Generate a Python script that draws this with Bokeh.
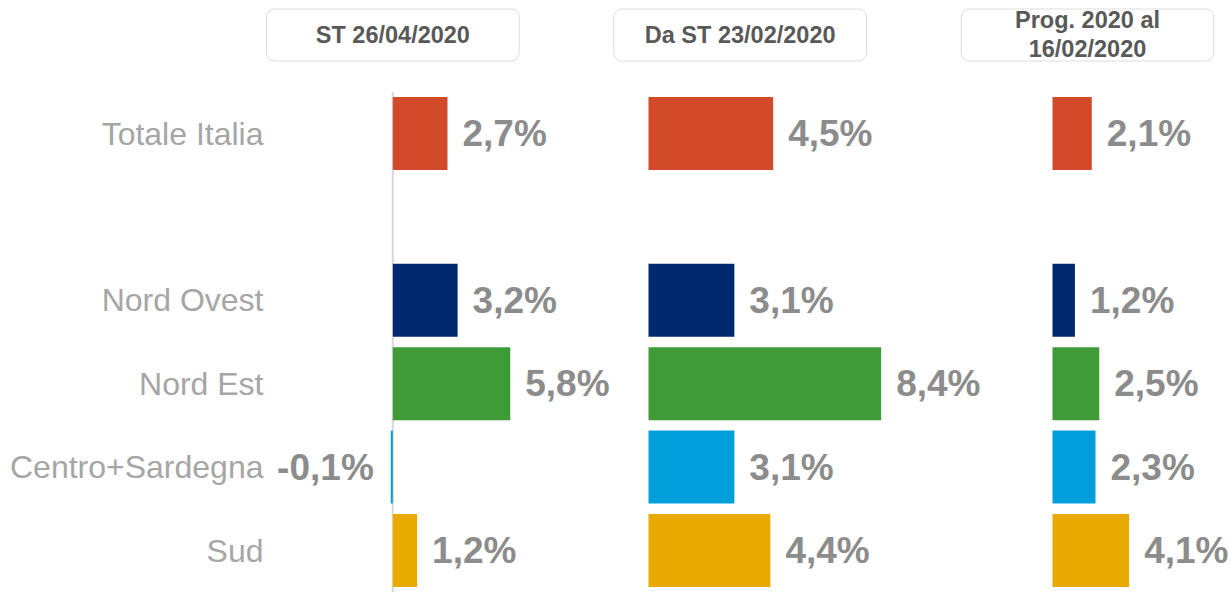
from bokeh.plotting import figure
from bokeh.models import Range1d, ColumnDataSource, BoxAnnotation
from bokeh.embed import file_html
from bokeh.resources import INLINE
from bokeh.core.properties import value

# ---------------- data ----------------
categories = ["Totale Italia", "Nord Ovest", "Nord Est", "Centro+Sardegna", "Sud"]
st_26_04 = [2.7, 3.2, 5.8, -0.1, 1.2]
da_st_23_02 = [4.5, 3.1, 8.4, 3.1, 4.4]
prog_16_02 = [2.1, 1.2, 2.5, 2.3, 4.1]
headers = ["ST 26/04/2020", "Da ST 23/02/2020", "Prog. 2020 al\n16/02/2020"]
bar_colors = ["#D34A2A", "#00286E", "#3E9B37", "#009FDB", "#E8AA00"]

series = [st_26_04, da_st_23_02, prog_16_02]

# ---------------- layout ----------------
W, H = 1231, 600
OFF = 0                      # figure origin in picture coordinates
ROW_STEP = 83.4              # px per row
FIRST_ROW = 133              # picture y of first row centre
zero_px = [392.3, 648, 1052]
px_per_pct = [20.25, 27.7, 18.7]
header_boxes = [(266, 518.7), (613.3, 866), (960.7, 1213.3)]

def yrow(page_y):
    return (page_y - FIRST_ROW) / ROW_STEP

rows = [i + (1 if i > 0 else 0) for i in range(len(categories))]

p = figure(width=W, height=H,
           x_range=Range1d(OFF, OFF + W),
           y_range=Range1d(yrow(OFF + H), yrow(OFF)),
           output_backend="svg", toolbar_location=None,
           x_axis_location=None, y_axis_location=None,
           min_border=0, outline_line_color=None,
           background_fill_color="white", border_fill_color="white")
p.grid.visible = False

FONT = value("Liberation Sans")

for k in range(3):
    name = f"p{k}"
    p.extra_x_ranges[name] = Range1d((OFF - zero_px[k]) / px_per_pct[k],
                                     (OFF + W - zero_px[k]) / px_per_pct[k])

# header boxes (drawn beneath the text)
for (l, r) in header_boxes:
    p.add_layout(BoxAnnotation(left=l, right=r, top=yrow(8.5), bottom=yrow(60.5),
                               fill_color="white", fill_alpha=1.0,
                               line_color="#8C8C8C", line_width=1,
                               border_radius=8, level="underlay"))

# zero line in first panel
p.segment(x0=[0], y0=[-0.5], x1=[0], y1=[5.5], x_range_name="p0",
          line_color="#D9D9D9", line_width=2)

for k, vals in enumerate(series):
    name = f"p{k}"
    labels = [("-" if v < 0 else "") + f"{abs(v):.1f}".replace(".", ",") + "%" for v in vals]
    src = ColumnDataSource(dict(
        y=rows, v=vals, color=bar_colors, label=labels,
        align=["right" if v < 0 else "left" for v in vals],
        xoff=[-17 if v < 0 else 15 for v in vals],
    ))
    p.hbar(y="y", left=0, right="v", height=0.875, fill_color="color",
           line_color=None, source=src, x_range_name=name)
    p.text(x="v", y="y", text="label", text_align="align", x_offset="xoff",
           text_baseline="middle", text_font=FONT, text_font_style="bold",
           text_font_size="37px", text_color="#8C8C8C",
           source=src, x_range_name=name)

p.text(x=[(l + r) / 2 for l, r in header_boxes], y=[yrow(34)] * 3, text=headers,
       text_align="center", text_baseline="middle", text_font=FONT,
       text_font_style="bold", text_font_size="23.5px", text_color="#595959",
       text_line_height=1.1)

# category labels
p.text(x=[263] * len(categories), y=rows, text=categories,
       text_align="right", text_baseline="middle", text_font=FONT,
       text_font_size="32px", text_color="#A6A6A6")

open("out.html", "w").write(file_html(p, INLINE))
